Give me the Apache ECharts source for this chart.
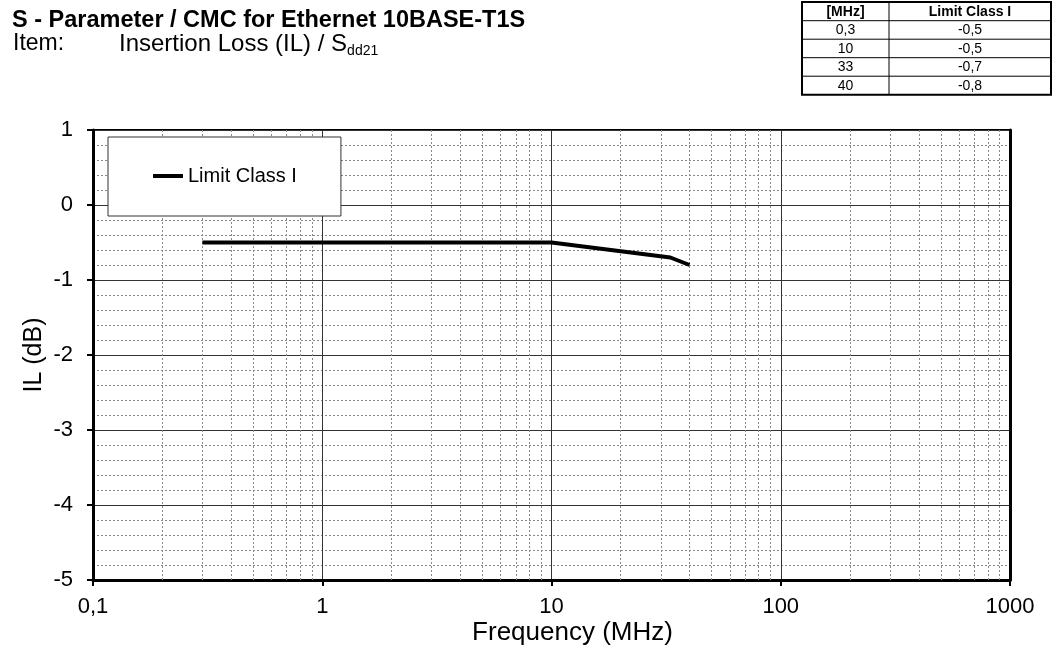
<!DOCTYPE html>
<html>
<head>
<meta charset="utf-8">
<script src="https://cdn.jsdelivr.net/npm/echarts@6/dist/echarts.min.js"></script>
<style>
html,body{margin:0;padding:0;background:#fff;}
#c{width:1056px;height:645px;}
</style>
</head>
<body>
<div id="c"></div>
<script>
// ---- data ----
const freqMHz = [0.3, 10, 33, 40];
const limitClassI = [-0.5, -0.5, -0.7, -0.8];
const seriesName = 'Limit Class I';
const xTickValues = [0.1, 1, 10, 100, 1000];
const xTickLabels = ['0,1', '1', '10', '100', '1000'];
const xMinorGrid = [0.2,0.3,0.4,0.5,0.6,0.7,0.8,0.9, 2,3,4,5,6,7,8,9, 20,30,40,50,60,70,80,90, 200,300,400,500,600,700,800,900];
const tableHeader = ['[MHz]', 'Limit Class I'];
const titleText = 'S - Parameter / CMC for Ethernet 10BASE-T1S';
const itemLabel = 'Item:';
const itemText = 'Insertion Loss (IL) / S';
const itemSub = 'dd21';
const xName = 'Frequency (MHz)';
const yName = 'IL (dB)';

// ---- helpers ----
const FF = '"Liberation Sans", Arial, Helvetica, sans-serif';
const fmtComma = v => String(v).replace('.', ',');
const measure = (txt, font) => {
  const ctx = document.createElement('canvas').getContext('2d');
  ctx.font = font;
  return ctx.measureText(txt).width;
};

// ---- table graphic ----
const TX0 = 802, TX1 = 889, TX2 = 1051, TY0 = 2, HH = 18.7, RH = 18.5;
const tableBottom = TY0 + HH + RH * freqMHz.length;
const tableEls = [];
tableEls.push({type:'rect', shape:{x:TX0, y:TY0, width:TX2-TX0, height:tableBottom-TY0},
  style:{fill:'#fff', stroke:'#000', lineWidth:2}, z:100});
tableEls.push({type:'line', shape:{x1:TX1, y1:TY0, x2:TX1, y2:tableBottom},
  style:{stroke:'#000', lineWidth:1}, z:101});
for (let i = 0; i < freqMHz.length; i++) {
  const y = TY0 + HH + RH * i;
  tableEls.push({type:'line', shape:{x1:TX0, y1:y, x2:TX2, y2:y},
    style:{stroke:'#000', lineWidth:1}, z:101});
}
tableEls.push({type:'text', x:(TX0+TX1)/2, y:TY0+HH/2+0.5, z:102,
  style:{text:tableHeader[0], font:'bold 14px '+FF, fill:'#000', align:'center', verticalAlign:'middle'}});
tableEls.push({type:'text', x:(TX1+TX2)/2, y:TY0+HH/2+0.5, z:102,
  style:{text:tableHeader[1], font:'bold 14px '+FF, fill:'#000', align:'center', verticalAlign:'middle'}});
freqMHz.forEach((f, i) => {
  const cy = TY0 + HH + RH * i + RH/2 + 0.5;
  tableEls.push({type:'text', x:(TX0+TX1)/2, y:cy, z:102,
    style:{text:fmtComma(f), font:'14px '+FF, fill:'#000', align:'center', verticalAlign:'middle'}});
  tableEls.push({type:'text', x:(TX1+TX2)/2, y:cy, z:102,
    style:{text:fmtComma(limitClassI[i]), font:'14px '+FF, fill:'#000', align:'center', verticalAlign:'middle'}});
});

// ---- title graphic ----
const itemFont = '24px ' + FF;
const itemX = 119;
const itemW = measure(itemText, itemFont);
const titleEls = [
  {type:'text', x:12, y:21, style:{text:titleText, font:'bold 23.5px '+FF, fill:'#000', align:'left', verticalAlign:'middle'}},
  {type:'text', x:13, y:44, style:{text:itemLabel, font:'23px ' + FF, fill:'#000', align:'left', verticalAlign:'middle'}},
  {type:'text', x:itemX, y:44, style:{text:itemText, font:itemFont, fill:'#000', align:'left', verticalAlign:'middle'}},
  {type:'text', x:itemX + itemW, y:51, style:{text:itemSub, font:'14px '+FF, fill:'#000', align:'left', verticalAlign:'middle'}}
];

const chart = echarts.init(document.getElementById('c'), null, {renderer:'canvas'});
chart.setOption({
  animation: false,
  backgroundColor: '#fff',
  textStyle: {fontFamily: FF},
  grid: {left:93, top:130, width:917, height:450, show:true, borderColor:'#000', borderWidth:2,
    backgroundColor:'transparent', containLabel:false, outerBoundsMode:'none'},
  legend: {
    data: [{name: seriesName, icon: 'rect'}],
    left: 108, top: 137,
    backgroundColor: '#fff',
    borderColor: '#333', borderWidth: 1,
    padding: [29, 44, 30, 45],
    itemWidth: 30, itemHeight: 4,
    selectedMode: false,
    itemStyle: {color: '#000'},
    textStyle: {fontSize: 20, color: '#000', fontFamily: FF}
  },
  xAxis: {
    type: 'log', logBase: 10, min: 0.1, max: 1000,
    axisLine: {show:true, onZero:false, lineStyle:{color:'#000', width:3}},
    axisTick: {show:true, length:6, lineStyle:{color:'#000', width:2}},
    axisLabel: {fontSize:22, color:'#000', margin:16, fontFamily:FF,
      formatter: v => {
        const i = xTickValues.findIndex(t => Math.abs(Math.log10(t) - Math.log10(v)) < 1e-6);
        return i >= 0 ? xTickLabels[i] : '';
      }},
    splitLine: {show:true, lineStyle:{color:'#333', width:1}},
    name: xName, nameLocation: 'middle', nameGap: 40, nameMoveOverlap: false,
    nameTextStyle: {fontSize:26, color:'#000', fontFamily:FF, padding:[0,0,0,42]}
  },
  yAxis: [{
    type: 'value', min: -5, max: 1, interval: 1,
    axisLine: {show:true, onZero:false, lineStyle:{color:'#000', width:3}},
    axisTick: {show:true, length:6, lineStyle:{color:'#000', width:2}},
    axisLabel: {fontSize:22, color:'#000', margin:20, fontFamily:FF},
    splitLine: {show:true, lineStyle:{color:'#333', width:1}},
    minorTick: {show:false, splitNumber:5},
    minorSplitLine: {show:true, lineStyle:{color:'#888', width:1, type:[2,2]}},
    name: yName, nameLocation: 'middle', nameGap: 46, nameMoveOverlap: false,
    nameTextStyle: {fontSize:25, color:'#000', fontFamily:FF}
  }, {
    type: 'value', min: -5, max: 1, interval: 1, position: 'right',
    axisLine: {show:true, onZero:false, lineStyle:{color:'#000', width:3}},
    axisTick: {show:false}, axisLabel: {show:false}, splitLine: {show:false}
  }],
  series: [{
    name: seriesName,
    type: 'line',
    data: freqMHz.map((f, i) => [f, limitClassI[i]]),
    symbol: 'none',
    lineStyle: {color:'#000', width:4},
    itemStyle: {color:'#000'},
    z: 10,
    markLine: {
      silent: true, symbol: 'none', z: 1, animation: false,
      label: {show:false},
      lineStyle: {color:'#888', width:1, type:[2,2]},
      emphasis: {disabled:true},
      data: xMinorGrid.map(v => ({xAxis: v}))
    }
  }],
  graphic: titleEls.concat(tableEls)
});
</script>
</body>
</html>
